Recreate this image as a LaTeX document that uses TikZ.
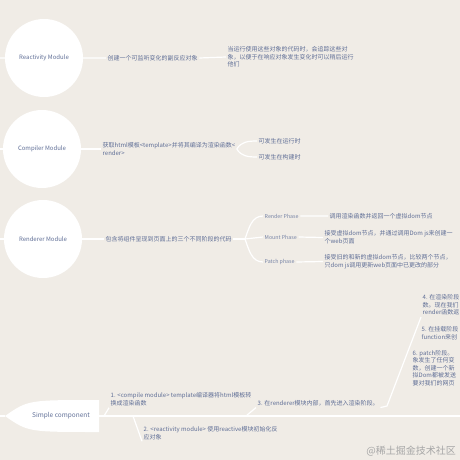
\documentclass[tikz,border=0pt]{standalone}
\usepackage{fontspec}
\setmainfont{Noto Sans CJK SC}
\definecolor{paper}{HTML}{F0ECE6}
\definecolor{ink}{HTML}{5F6E96}
\begin{document}
\begin{tikzpicture}[x=1pt,y=-1pt,
  mod/.style={circle,fill=white,minimum size=78pt,inner sep=0pt,text=ink,font=\fontsize{6}{7}\selectfont},
  txt/.style={anchor=west,inner sep=1.5pt,align=left,text=ink,font=\fontsize{6}{7.6}\selectfont},
  phase/.style={anchor=west,inner sep=1.5pt,text=ink!85,font=\fontsize{5.3}{6}\selectfont},
  link/.style={white,line width=1.2pt}]
\fill[paper] (0,0) rectangle (460,460);
\clip (0,0) rectangle (460,460);
\coordinate (in1) at (0,58);
\coordinate (in2) at (0,149);
\coordinate (in3) at (0,239);
\node[mod] (react) at (44,58) {Reactivity Module};
\node[txt] (react1) at (106,58) {创建一个可监听变化的副反应对象};
\node[txt] (react2) at (226,57) {当运行使用这些对象的代码时，会追踪这些对\\象，以便于在响应对象发生变化时可以稍后运行\\他们};
\draw[link] (in1) -- (react) (react.east) -- (react1.west) (react1.east) -- (react2.west);
\node[mod] (comp) at (42,149) {Compiler Module};
\node[txt] (comp1) at (101,149) {获取html模板<template>并将其编译为渲染函数<\\render>};
\node[txt] (run) at (257,141) {可发生在运行时};
\node[txt] (build) at (257,157) {可发生在构建时};
\draw[link] (in2) -- (comp) (comp.east) -- (comp1.west);
\draw[link] (comp1.east) to[out=60,in=180] (run.west) (comp1.east) to[out=-60,in=180] (build.west);
\node[mod] (rend) at (43,239) {Renderer Module};
\node[txt] (rend1) at (104,239) {包含将组件呈现到页面上的三个不同阶段的代码};
\coordinate (fork) at (245,239);
\draw[link] (in3) -- (rend) (rend.east) -- (rend1.west) (rend1.east) -- (fork);
\node[phase] (rp) at (263,216) {Render Phase};
\node[phase] (mp) at (263,237) {Mount Phase};
\node[phase] (pp) at (263,262) {Patch phase};
\draw[link] (fork) to[out=70,in=180] (rp.west) (fork) -- (mp.west) (fork) to[out=-70,in=180] (pp.west);
\node[txt] (rpd) at (328,216) {调用渲染函数并返回一个虚拟dom节点};
\node[txt] (mpd) at (323,237.5) {接受虚拟dom节点，并通过调用Dom js来创建一\\个web页面};
\node[txt] (ppd) at (323,261.5) {接受旧的和新的虚拟dom节点，比较两个节点，\\只dom js调用更新web页面中已更改的部分};
\draw[link] (rp.east) -- (rpd.west) (mp.east) -- (mpd.west) (pp.east) -- (ppd.west);
\coordinate (ax0) at (0,416);
\coordinate (ax1) at (460,416);
\coordinate (tip) at (5,416);
\coordinate (base) at (99,416);
\fill[white] (tip) .. controls (28,400) .. (99,400) -- (99,432) .. controls (28,432) .. (tip) -- cycle;
\node[text=ink,font=\fontsize{6.5}{7}\selectfont] (simple) at (61,416) {Simple component};
\draw[link] (ax0) -- (tip) (base) -- (ax1);
\coordinate (b1) at (104,416);
\coordinate (b2) at (133,416);
\coordinate (b3) at (246,416);
\node[txt] (s1) at (109,399.5) {1. <compile module> template编译器将html模板转\\换成渲染函数};
\node[txt] (s2) at (142,433) {2. <reactivity module> 使用reactive模块初始化反\\应对象};
\node[txt] (s3) at (256,403) {3. 在renderer模块内部，首先进入渲染阶段。};
\draw[link] (b1) -- (s1.south west) (b2) -- (s2.south west) (b3) -- (s3.south west);
\node[txt] (s4) at (421,305) {4. 在渲染阶段\\数。现在我们\\render函数返};
\node[txt] (s5) at (420,333) {5. 在挂载阶段\\function来创};
\node[txt] (s6) at (411,368) {6. patch阶段。\\象发生了任何变\\数，创建一个新\\拟Dom都被发送\\要对我们的网页};
\coordinate (d0) at (387,406);
\draw[link] (s3.south east) -- (d0) -- (s4.south west);
\node[anchor=east,inner sep=0pt,text=black!35,font=\fontsize{10}{12}\selectfont] (mark) at (456,451) {@稀土掘金技术社区};
\end{tikzpicture}
\end{document}
